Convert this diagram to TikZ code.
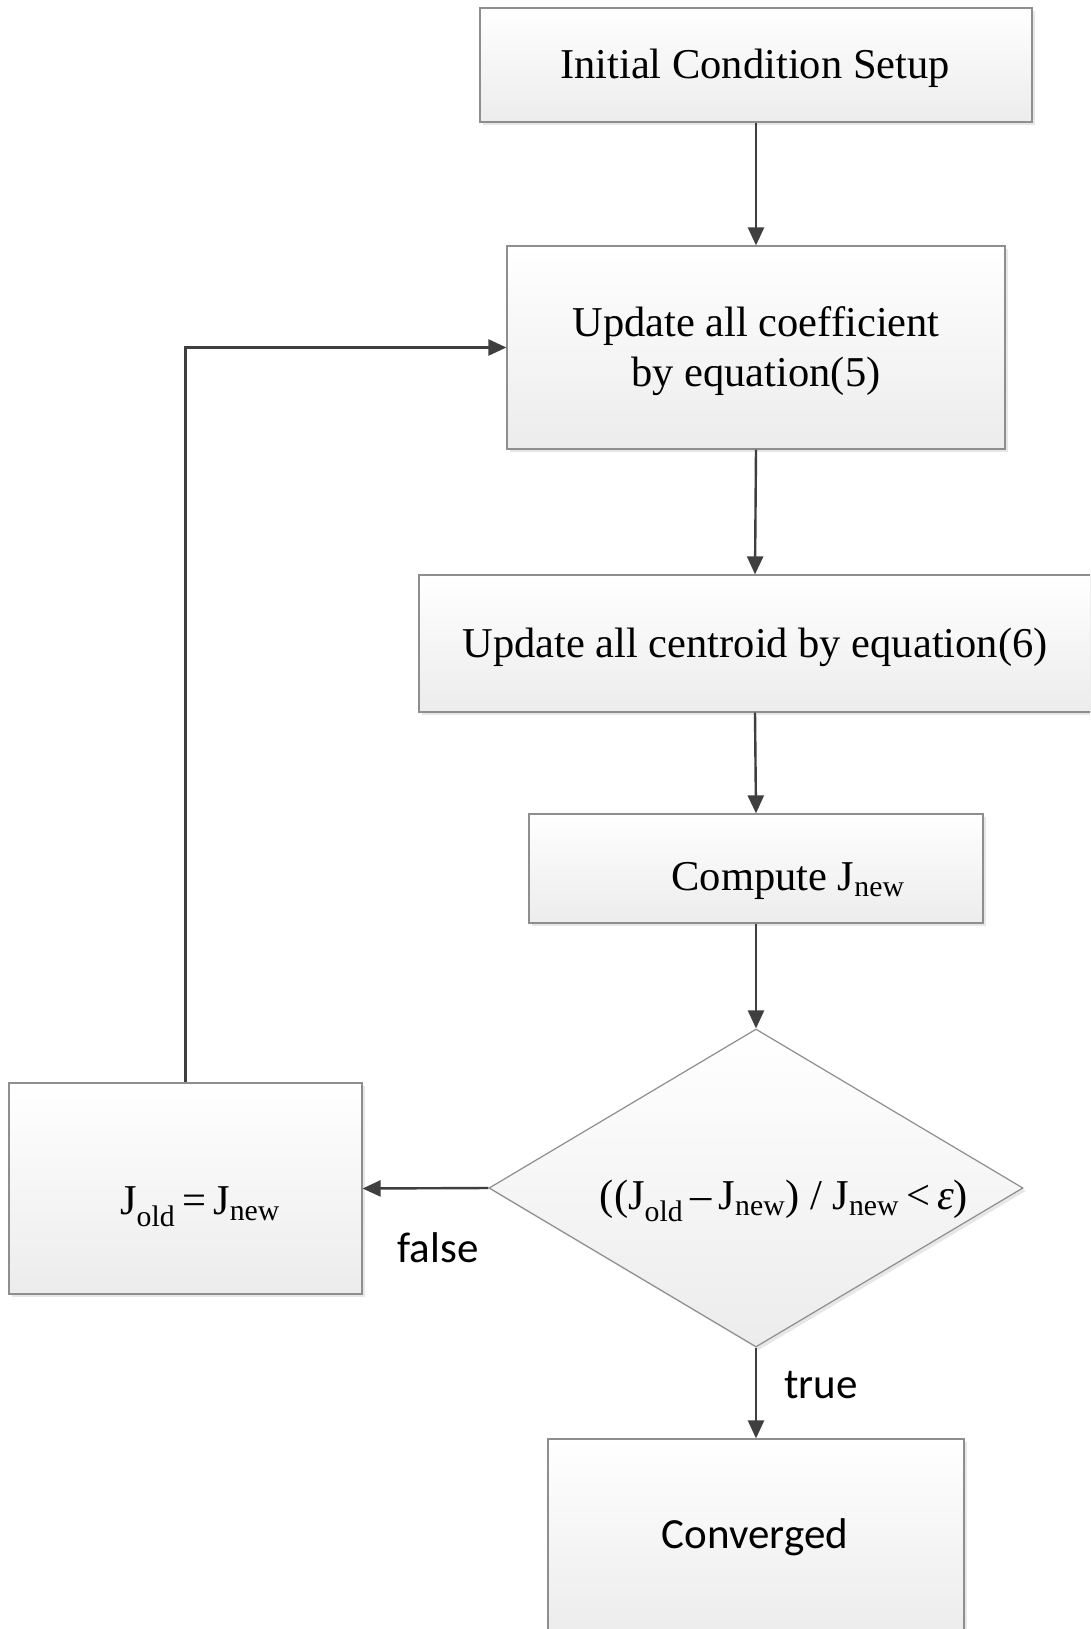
\documentclass[tikz,border=0pt]{standalone}
\usepackage{fontspec}
\setmainfont{Liberation Serif}
\newfontfamily\labelfont{Carlito}
\usetikzlibrary{shapes.geometric,arrows.meta,shadows}

\definecolor{edgegray}{HTML}{8E8E8E}
\definecolor{flowgray}{HTML}{3F3F3F}
\definecolor{shadegray}{HTML}{ECECEC}

\begin{document}
\begin{tikzpicture}[x=1pt,y=-1pt,
  procbox/.style={rectangle, draw=edgegray, line width=1.2pt, inner sep=0pt,
    top color=white, bottom color=shadegray,
    drop shadow={shadow xshift=3pt, shadow yshift=-3pt, fill=black!18}},
  decbox/.style={diamond, draw=edgegray, line width=1.2pt, inner sep=0pt,
    top color=white, bottom color=shadegray,
    drop shadow={shadow xshift=3pt, shadow yshift=-3pt, fill=black!18}},
  serif/.style={font=\fontsize{42.5}{50}\selectfont, align=center, inner sep=0pt},
  tag/.style={font=\labelfont\fontsize{43}{50}\selectfont, inner sep=0pt},
  flow/.style={draw=flowgray, line width=2.4pt,
    -{Triangle[length=18pt,width=16pt]}, fill=none}]

\useasboundingbox (0,0) rectangle (1090,1629);
\clip (0,0) rectangle (1090,1629);
\fill[white] (0,0) rectangle (1090,1629);

% process boxes
\node[procbox, minimum width=552pt, minimum height=114pt] (b1) at (756,65) {};
\node[procbox, minimum width=498pt, minimum height=203pt] (b2) at (756,347.5) {};
\node[procbox, minimum width=672pt, minimum height=137pt] (b3) at (755,643.5) {};
\node[procbox, minimum width=454pt, minimum height=109pt] (b4) at (756,868.5) {};
\node[decbox, minimum width=534pt, minimum height=318pt, aspect=1.68] (d1) at (756,1188) {};
\node[procbox, minimum width=353pt, minimum height=211pt] (b5) at (185.5,1188.5) {};
\node[procbox, minimum width=416pt, minimum height=194pt] (b6) at (756,1536) {};

% texts
\node[serif] (t1) at (755,68) {Initial Condition Setup};
\node[serif] (t2) at (756,351) {Update all coefficient\\by equation(5)};
\node[serif] (t3) at (755,647) {Update all centroid by equation(6)};
\node[serif] (t4) at (788,881) {Compute J\textsubscript{new}};
\node[serif] (t5) at (784,1201) {((J\textsubscript{old}\,–\,J\textsubscript{new}) / J\textsubscript{new}\,<\,{\itshape ε})};
\node[serif] (t6) at (200,1207) {J\textsubscript{old}\,=\,J\textsubscript{new}};
\node[tag] (t7) at (755,1537) {Converged};

% connectors
\draw[flow] (b1.south) -- (b2.north);
\draw[flow] (b2.south) -- (b3.north);
\draw[flow] (b3.south) -- (b4.north);
\draw[flow] (b4.south) -- (d1.north);
\draw[flow] (d1.west) -- (b5.east);
\draw[flow] (d1.south) -- (b6.north);
\draw[flow] (b5.north) |- (b2.west);

% branch labels
\node[tag] (lf) at (438,1248) {false};
\node[tag] (lt) at (821,1385) {true};

\end{tikzpicture}
\end{document}
